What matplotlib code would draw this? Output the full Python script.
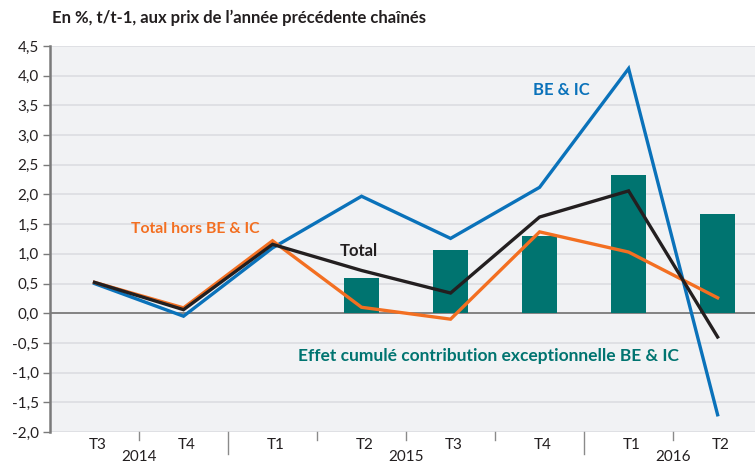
import matplotlib
matplotlib.use("Agg")
import matplotlib.pyplot as plt
import numpy as np

plt.rcParams["font.family"] = ["Lato", "DejaVu Sans"]

# données
trimestres = ["T3", "T4", "T1", "T2", "T3", "T4", "T1", "T2"]
annees = ["2014", "2015", "2016"]
be_ic = [0.50, -0.05, 1.10, 1.97, 1.26, 2.12, 4.12, -1.71]
total = [0.52, 0.06, 1.16, 0.72, 0.34, 1.62, 2.06, -0.40]
total_hors = [0.52, 0.09, 1.22, 0.10, -0.10, 1.37, 1.03, 0.26]
effet_cumule = [np.nan, np.nan, np.nan, 0.60, 1.06, 1.30, 2.33, 1.67]

BLEU = "#0a72ba"
ORANGE = "#f36f21"
NOIR = "#231f20"
VERT = "#007470"

fig = plt.figure(figsize=(7.55, 4.65), dpi=100)
ax = fig.add_axes([50 / 755, 1 - 432 / 465, 705 / 755, 386 / 465])
ax.set_facecolor("#f1f2f4")

x = np.arange(len(trimestres))

# grille horizontale
for v in np.arange(-2.0, 4.51, 0.5):
    if abs(v) < 1e-9:
        continue
    ax.axhline(v, color="#dcdde1", lw=1.2, zorder=0)
ax.axhline(0, color="#7a7a7a", lw=1.3, zorder=1)

ax.bar(x, effet_cumule, width=0.4, color=VERT, zorder=2)
ax.plot(x, be_ic, color=BLEU, lw=2.4, zorder=3, solid_joinstyle="miter")
ax.plot(x, total_hors, color=ORANGE, lw=2.4, zorder=4, solid_joinstyle="miter")
ax.plot(x, total, color=NOIR, lw=2.4, zorder=5, solid_joinstyle="miter")

ax.set_xlim(-0.5, 7.42)
ax.set_ylim(-2.0, 4.5)
ax.set_yticks(np.arange(-2.0, 4.51, 0.5))
ax.set_yticklabels([f"{v:.1f}".replace(".", ",") for v in np.arange(-2.0, 4.51, 0.5)],
                   fontsize=11, color="#231f20")
ax.tick_params(axis="y", length=5, width=1, color="#7a7a7a", pad=3)

# graduations x : séparateurs entre trimestres
ax.set_xticks(x + 0.04)
ax.set_xticklabels(trimestres, fontsize=11, color="#231f20")
ax.tick_params(axis="x", length=0, pad=4)
trans = ax.get_xaxis_transform()
for b in np.arange(0.5, 7.0, 1.0):
    longue = b in (1.5, 5.5)
    ax.plot([b, b], [0, -0.058 if longue else -0.022], transform=trans,
            color="#8a8a8a", lw=1, clip_on=False)

for xa, an in zip([0.5, 3.5, 6.5], annees):
    ax.text(xa, -0.066, an, transform=trans, ha="center", va="center",
            fontsize=11, color="#231f20")

for s in ["top", "right", "bottom"]:
    ax.spines[s].set_visible(False)
ax.spines["left"].set_color("#7a7a7a")
ax.spines["left"].set_linewidth(1.8)

fig.text(52 / 755, 1 - 18 / 465, "En %, t/t-1, aux prix de l\u2019année précédente chaînés",
         fontsize=12, fontweight="bold", color="#231f20", ha="left", va="center")

ax.text(5.24, 3.76, "BE & IC", color=BLEU, fontsize=12, fontweight="bold",
        ha="center", va="center")
ax.text(1.13, 1.42, "Total hors BE & IC", color=ORANGE, fontsize=11.3, fontweight="bold",
        ha="center", va="center")
ax.text(2.97, 1.04, "Total", color=NOIR, fontsize=12, fontweight="bold",
        ha="center", va="center")
ax.text(4.43, -0.72, "Effet cumulé contribution exceptionnelle BE & IC", color=VERT,
        fontsize=12.5, fontweight="bold", ha="center", va="center")

fig.savefig("out.png", dpi=100)
